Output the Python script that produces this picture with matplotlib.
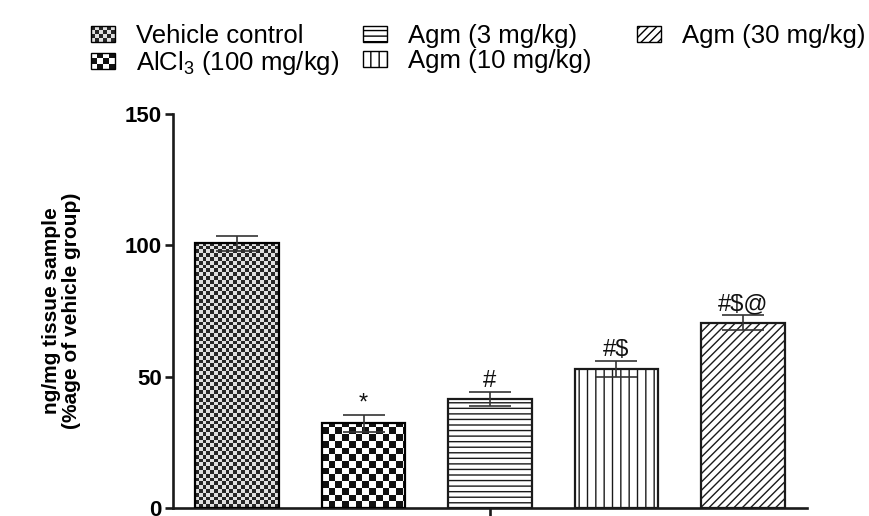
import matplotlib
matplotlib.use("Agg")
import matplotlib.pyplot as plt
import numpy as np
from matplotlib.colors import ListedColormap
from matplotlib.legend_handler import HandlerBase
from matplotlib.patches import Patch, Rectangle

plt.rcParams["font.family"] = ["Liberation Sans", "DejaVu Sans"]
plt.rcParams["mathtext.fontset"] = "custom"
plt.rcParams["mathtext.rm"] = "Liberation Sans"
plt.rcParams["hatch.linewidth"] = 1.0

# group labels, means and SEM (% of vehicle group)
groups = ["Vehicle control", r"AlCl$_\mathregular{3}$ (100 mg/kg)", "Agm (3 mg/kg)",
          "Agm (10 mg/kg)", "Agm (30 mg/kg)"]
means = [100.8, 32.3, 41.6, 53.0, 70.5]
sems = [2.8, 3.2, 2.7, 3.0, 2.8]
marks = ["", "*", "#", "#$", "#$@"]

FIG_W, FIG_H, DPI = 8.7, 5.16, 100
BAR_W = 0.66
LEG_FS = 18.5


def checker_fill(ax, bar, cell_px, dark, light):
    """Fill a bar with a checkerboard image clipped to the bar outline."""
    x0, y0 = bar.get_x(), bar.get_y()
    w, h = bar.get_width(), bar.get_height()
    p0 = ax.transData.transform((x0, y0))
    p1 = ax.transData.transform((x0 + w, y0 + h))
    sx = (p1[0] - p0[0]) / w
    sy = (p1[1] - p0[1]) / h
    nx = int(np.ceil((p1[0] - p0[0]) / cell_px))
    ny = int(np.ceil((p1[1] - p0[1]) / cell_px))
    grid = np.add.outer(np.arange(ny), np.arange(nx)) % 2
    im = ax.imshow(grid, cmap=ListedColormap([light, dark]), origin="lower",
                   interpolation="nearest", aspect="auto", zorder=1,
                   extent=(x0, x0 + nx * cell_px / sx, y0, y0 + ny * cell_px / sy))
    im.set_clip_path(bar)


class HandlerChecker(HandlerBase):
    def __init__(self, nx, ny, dark, light):
        super().__init__()
        self.nx, self.ny, self.dark, self.light = nx, ny, dark, light

    def create_artists(self, legend, orig_handle, xdescent, ydescent,
                       width, height, fontsize, trans):
        x0, y0 = -xdescent, -ydescent
        cw, ch = width / self.nx, height / self.ny
        arts = []
        for i in range(self.ny):
            for j in range(self.nx):
                c = self.dark if (i + j) % 2 else self.light
                arts.append(Rectangle((x0 + j * cw, y0 + i * ch), cw, ch,
                                      facecolor=c, edgecolor="none", transform=trans))
        arts.append(Rectangle((x0, y0), width, height, facecolor="none",
                              edgecolor="black", lw=1.0, transform=trans))
        return arts


fig = plt.figure(figsize=(FIG_W, FIG_H), dpi=DPI)
ax = fig.add_axes([173 / 870, 8 / 516, 634 / 870, 394 / 516])

x = np.arange(len(means))
XLIM = (-0.506, 4.506)
YLIM = (0, 150)
ax.set_xlim(*XLIM)
ax.set_ylim(*YLIM)

hatches = [None, None, "---", "||", "////"]
bars = ax.bar(x, means, width=BAR_W, facecolor="none", edgecolor="black",
              linewidth=1.6, zorder=3)
for b, h in zip(bars, hatches):
    if h:
        b.set_facecolor("white")
        b.set_hatch(h)
        b.set_zorder(2)
        b.set_edgecolor("#1a1a1a")

checker_fill(ax, bars[0], 3.8, "#262626", "#e0e0e0")
checker_fill(ax, bars[1], 6.7, "#111111", "#ffffff")
ax.set_xlim(*XLIM)
ax.set_ylim(*YLIM)

ax.errorbar(x, means, yerr=sems, fmt="none", ecolor="#333333", elinewidth=1.2,
            capsize=15, capthick=1.2, zorder=4)

for xi, m, s, t in zip(x, means, sems, marks):
    if t:
        ax.annotate(t, (xi, m + s), xytext=(0, 0), textcoords="offset points",
                    ha="center", va="bottom", fontsize=17, color="#111111", zorder=5)

for side in ("top", "right"):
    ax.spines[side].set_visible(False)
for side in ("left", "bottom"):
    ax.spines[side].set_linewidth(1.9)
    ax.spines[side].set_color("#1a1a1a")

ax.set_yticks([0, 50, 100, 150])
ax.set_xticks([2])
ax.set_xticklabels([""])
ax.tick_params(axis="both", direction="out", length=6, width=1.9, color="#1a1a1a")
ax.tick_params(axis="y", labelsize=16, pad=2)
for lbl in ax.get_yticklabels():
    lbl.set_fontweight("bold")

ax.set_ylabel("ng/mg tissue sample\n(%age of vehicle group)", fontsize=15,
              fontweight="bold", linespacing=1.1)
ax.yaxis.set_label_coords(-0.145, 0.5)

# legend: three columns placed side by side at the top of the figure
proxies = [Patch(facecolor="white", edgecolor="black", lw=1.0, hatch=h)
           for h in hatches]
hmap = {proxies[0]: HandlerChecker(6, 4, "#262626", "#e0e0e0"),
        proxies[1]: HandlerChecker(4, 3, "#111111", "#ffffff")}
leg_kw = dict(loc="upper left", frameon=False, fontsize=LEG_FS, borderpad=0,
              handlelength=0.95, handleheight=0.6, handletextpad=0.8,
              labelspacing=0.05, handler_map=hmap,
              bbox_transform=fig.transFigure)
columns = [([0, 1], 78), ([2, 3], 350), ([4], 624)]
for idx, x_px in columns:
    leg = fig.legend([proxies[i] for i in idx], [groups[i] for i in idx],
                     bbox_to_anchor=(x_px / 870, 1 - 11 / 516), **leg_kw)

fig.savefig("out.png", dpi=DPI)
